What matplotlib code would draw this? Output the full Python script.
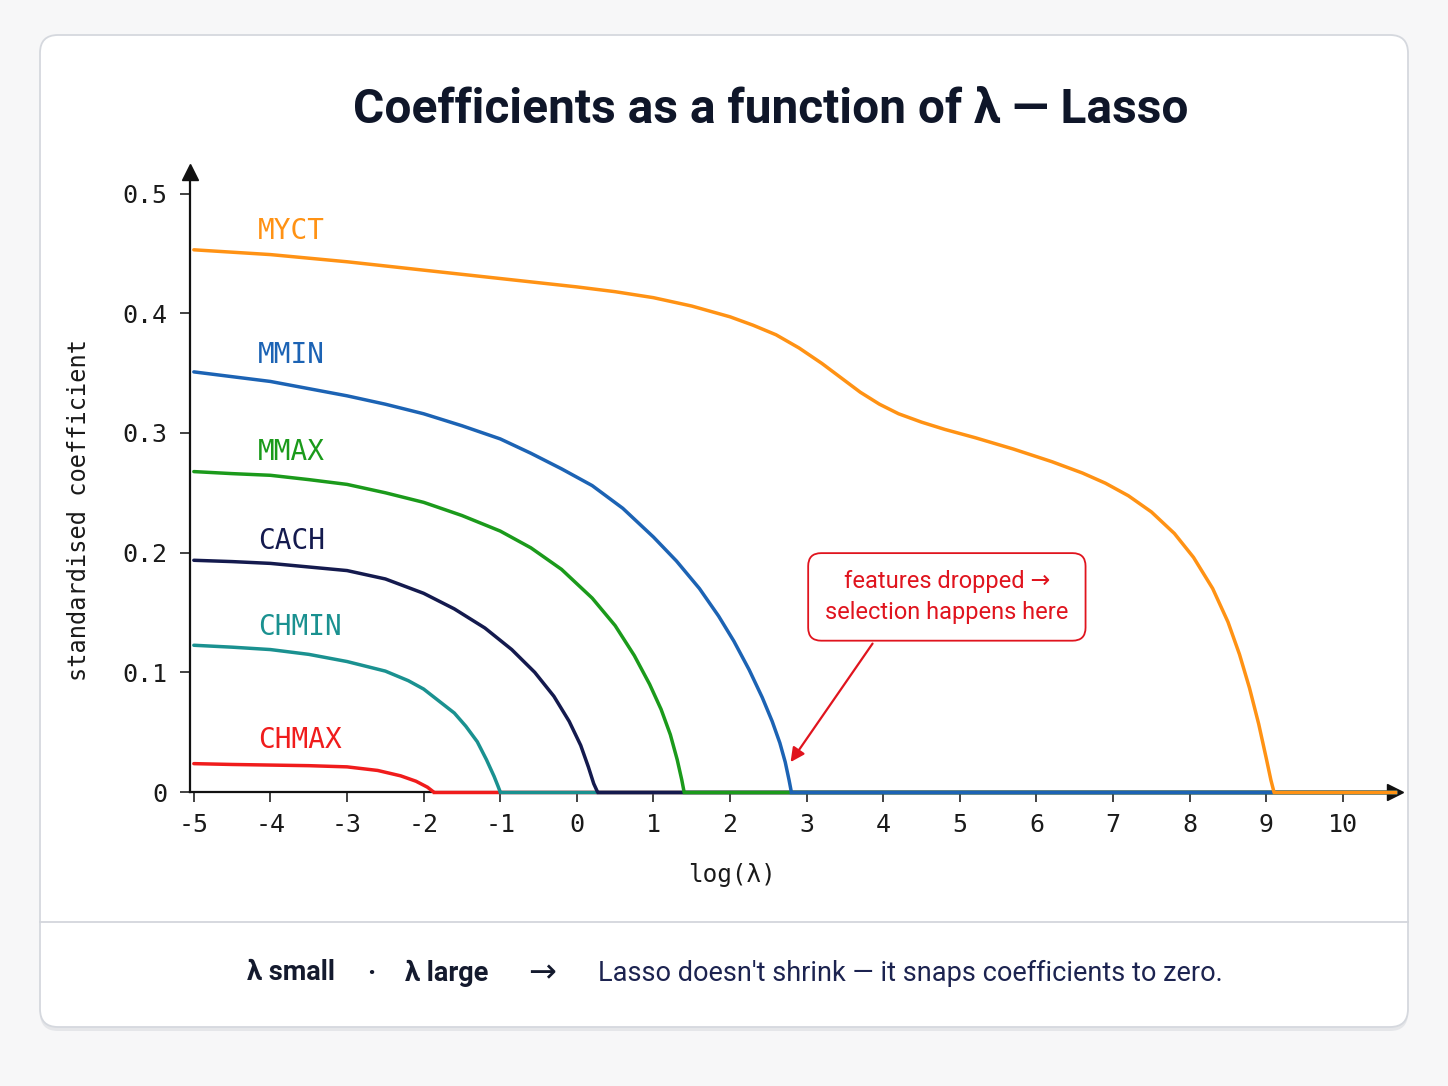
import matplotlib
matplotlib.use("Agg")
import matplotlib.pyplot as plt
from matplotlib.patches import FancyBboxPatch

# coefficient paths (log lambda, standardised coef)
myct_x = [-5, -4.5, -4, -3.5, -3, -2.5, -2, -1.5, -1, -0.5, 0, 0.5, 1, 1.5, 2, 2.3, 2.6, 2.9,
          3.2, 3.45, 3.7, 3.95, 4.2, 4.5, 4.8, 5.2, 5.7, 6.2, 6.6, 6.9, 7.2, 7.5, 7.8, 8.05,
          8.3, 8.5, 8.65, 8.78, 8.9, 9.0, 9.06, 9.1]
myct_y = [0.453, 0.451, 0.449, 0.446, 0.443, 0.4395, 0.436, 0.4325, 0.429, 0.4255, 0.422,
          0.418, 0.413, 0.406, 0.397, 0.390, 0.382, 0.371, 0.358, 0.346, 0.334, 0.324, 0.316,
          0.309, 0.303, 0.296, 0.2865, 0.276, 0.2665, 0.258, 0.2475, 0.234, 0.216, 0.196,
          0.170, 0.142, 0.115, 0.087, 0.057, 0.028, 0.010, 0.0]

mmin_x = [-5, -4.5, -4, -3.5, -3, -2.5, -2, -1.5, -1, -0.6, -0.2, 0.2, 0.6, 1.0, 1.3, 1.6,
          1.85, 2.05, 2.25, 2.42, 2.55, 2.65, 2.72, 2.77, 2.80]
mmin_y = [0.351, 0.347, 0.343, 0.337, 0.331, 0.324, 0.316, 0.306, 0.295, 0.283, 0.270, 0.256,
          0.237, 0.213, 0.193, 0.170, 0.147, 0.126, 0.102, 0.079, 0.059, 0.041, 0.025, 0.010,
          0.0]

mmax_x = [-5, -4.5, -4, -3.5, -3, -2.5, -2, -1.5, -1, -0.6, -0.2, 0.2, 0.5, 0.75, 0.95, 1.1,
          1.22, 1.31, 1.37, 1.40]
mmax_y = [0.2677, 0.266, 0.2646, 0.261, 0.257, 0.250, 0.242, 0.231, 0.218, 0.204, 0.186,
          0.162, 0.139, 0.114, 0.090, 0.069, 0.048, 0.027, 0.010, 0.0]

cach_x = [-5, -4.5, -4, -3.5, -3, -2.5, -2, -1.6, -1.2, -0.85, -0.55, -0.3, -0.1, 0.05, 0.15,
          0.22, 0.27]
cach_y = [0.1936, 0.1925, 0.191, 0.188, 0.185, 0.178, 0.166, 0.153, 0.137, 0.119, 0.100,
          0.080, 0.059, 0.039, 0.021, 0.007, 0.0]

chmin_x = [-5, -4.5, -4, -3.5, -3, -2.5, -2.2, -2.0, -1.8, -1.6, -1.45, -1.3, -1.18, -1.08,
           -1.03, -1.0]
chmin_y = [0.1226, 0.121, 0.119, 0.115, 0.109, 0.101, 0.093, 0.086, 0.076, 0.066, 0.055,
           0.042, 0.027, 0.013, 0.005, 0.0]

chmax_x = [-5, -4.5, -4, -3.5, -3, -2.6, -2.3, -2.1, -1.95, -1.87]
chmax_y = [0.0237, 0.023, 0.0225, 0.022, 0.021, 0.018, 0.0135, 0.009, 0.004, 0.0]

series = [
    ("MYCT", myct_x, myct_y, "#ff9214", 0.469),
    ("MMIN", mmin_x, mmin_y, "#1c63b4", 0.365),
    ("MMAX", mmax_x, mmax_y, "#1b9a1b", 0.284),
    ("CACH", cach_x, cach_y, "#141a4e", 0.210),
    ("CHMIN", chmin_x, chmin_y, "#1a9190", 0.138),
    ("CHMAX", chmax_x, chmax_y, "#f01c1c", 0.0434),
]

x_ticks = list(range(-5, 11))
y_ticks = [0, 0.1, 0.2, 0.3, 0.4, 0.5]
y_ticklabels = ["0", "0.1", "0.2", "0.3", "0.4", "0.5"]

W, H = 1448, 1086
fig = plt.figure(figsize=(W / 100, H / 100), dpi=100)
fig.patch.set_facecolor("#f7f7f8")

# card + shadow, kept behind the axes
inch = fig.dpi_scale_trans
shadow = FancyBboxPatch((0.40, 0.55), 13.68, 9.92, boxstyle="round,pad=0,rounding_size=0.18",
                        transform=inch, facecolor="#d9dbe0", edgecolor="none", alpha=0.6, zorder=-3)
card = FancyBboxPatch((0.40, 0.59), 13.68, 9.92, boxstyle="round,pad=0,rounding_size=0.18",
                      transform=inch, facecolor="white", edgecolor="#d5d8de", lw=1.3, zorder=-2)
fig.patches.extend([shadow, card])
fig.add_artist(plt.Line2D([0.40 / 14.48, 14.08 / 14.48], [1 - 922 / H, 1 - 922 / H],
                          transform=fig.transFigure, color="#d3d6dc", lw=1.3, zorder=-1))

sans = ["Roboto", "DejaVu Sans"]
fig.text(771 / W, 1 - 110 / H, "Coefficients as a function of λ — Lasso", ha="center", va="center",
         fontsize=34.5, fontweight="bold", color="#0f1629", family=sans)

ax = fig.add_axes([190 / W, (H - 792) / H, 1205 / W, 620 / H])
ax.set_zorder(5)
ax.set_facecolor("none")
ax.set_xlim(-5.05, 10.68)
ax.set_ylim(0, 0.518)

for sp in ["top", "right"]:
    ax.spines[sp].set_visible(False)
for sp in ["left", "bottom"]:
    ax.spines[sp].set_linewidth(1.6)
    ax.spines[sp].set_color("#111111")

ax.plot(0, 1, marker="^", ms=11, color="#111111", transform=ax.transAxes, clip_on=False)
ax.plot(1, 0, marker=">", ms=11, color="#111111", transform=ax.transAxes, clip_on=False)

mono = "DejaVu Sans Mono"
ax.set_xticks(x_ticks)
ax.set_xticklabels([str(t) for t in x_ticks], family=mono, fontsize=18, color="#1a1a1a")
ax.set_yticks(y_ticks)
ax.set_yticklabels(y_ticklabels, family=mono, fontsize=18, color="#1a1a1a")
ax.tick_params(axis="x", direction="out", length=7, width=1.2, pad=8, color="#222222")
ax.tick_params(axis="y", direction="out", length=7, width=1.2, pad=9, color="#222222")

ax.set_xlabel("log(λ)", family=mono, fontsize=17.5, color="#1a1a1a")
ax.xaxis.set_label_coords(0.450, -0.114)
ax.set_ylabel("standardised coefficient", family=mono, fontsize=17, color="#1a1a1a")
ax.yaxis.set_label_coords(-0.082, 0.455)

xmax = ax.get_xlim()[1]
n = len(series)
for i, (name, xs, ys, col, ly) in enumerate(series):
    z = 10 + (n - i)
    ax.plot(xs, ys, color=col, lw=2.5, zorder=z, clip_on=False,
            solid_capstyle="round", solid_joinstyle="round")
    # flat zero tail after the feature is dropped
    ax.plot([xs[-1], xmax], [0, 0], color=col, lw=2.5, zorder=z, clip_on=False)
    ax.text(-4.165, ly, name, family=mono, fontsize=20, color=col, va="center", ha="left")

red = "#e0141e"
ax.annotate("", xy=(2.79, 0.025), xytext=(3.86, 0.124),
            arrowprops=dict(arrowstyle="-|>", color=red, lw=1.6, mutation_scale=21,
                            shrinkA=0, shrinkB=0), zorder=30)
ax.text(4.83, 0.163, "features dropped →\nselection happens here", ha="center", va="center",
        fontsize=17, color=red, family=sans, linespacing=1.42, zorder=31,
        bbox=dict(boxstyle="round,pad=0.72,rounding_size=0.55", facecolor="white",
                  edgecolor=red, lw=1.3))

fy = 1 - 973 / H
fig.text(247 / W, fy, "λ small", ha="left", va="center", fontsize=19.5, fontweight="semibold",
         color="#141a2e", family=sans)
fig.text(371 / W, fy, "·", ha="center", va="center", fontsize=19.5, fontweight="bold",
         color="#141a2e", family=sans)
fig.text(405 / W, fy, "λ large", ha="left", va="center", fontsize=19.5, fontweight="semibold",
         color="#141a2e", family=sans)
fig.text(528 / W, fy, "→", ha="left", va="center", fontsize=24, color="#141a2e",
         family="DejaVu Sans")
fig.text(598 / W, fy, "Lasso doesn't shrink — it snaps coefficients to zero.", ha="left",
         va="center", fontsize=19.5, color="#1c2350", family=sans)

fig.savefig("out.png", dpi=100, facecolor=fig.get_facecolor())
